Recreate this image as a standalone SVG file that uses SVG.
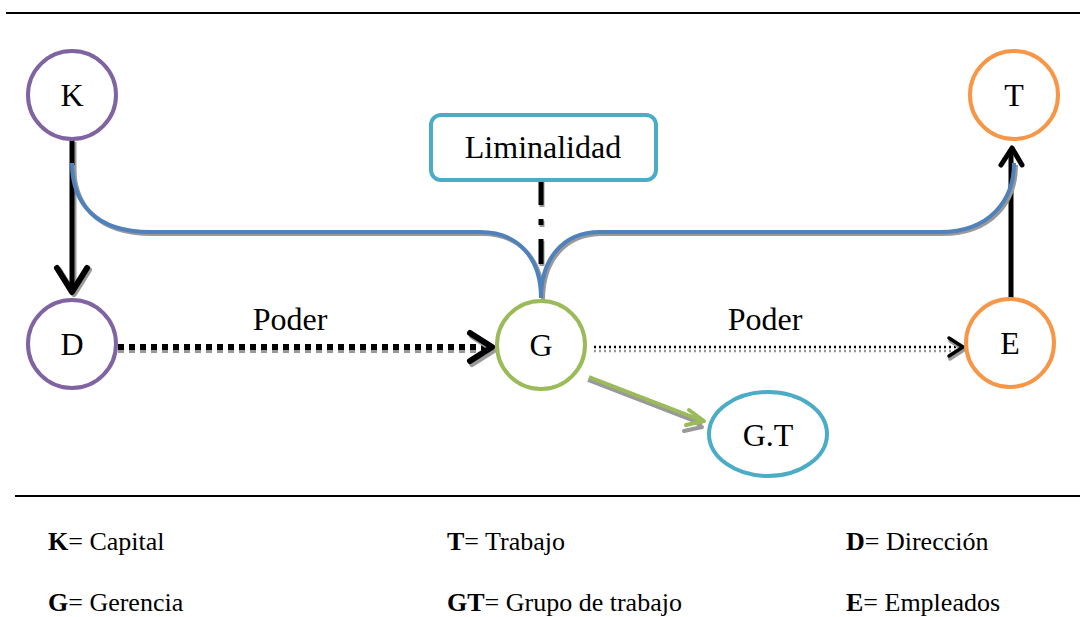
<svg xmlns="http://www.w3.org/2000/svg" width="1080" height="617" viewBox="0 0 1080 617">
<style>
text{font-family:"Liberation Serif","Times New Roman",serif;fill:#000}
.nd{fill:#fff;stroke-width:4}
.lbl{font-size:32px;text-anchor:middle}
.leg{font-size:26px}
.sh{stroke:#999;fill:none}
.ah{fill:none;stroke-linecap:round;stroke-linejoin:round}
</style>
<rect width="1080" height="617" fill="#fff"/>
<line x1="6" y1="13" x2="1080" y2="13" stroke="#000" stroke-width="2"/>
<line x1="15" y1="496" x2="1080" y2="496" stroke="#000" stroke-width="2"/>

<g id="connectors">
<line x1="74" y1="142" x2="74" y2="294" class="sh" stroke-width="5"/>
<polyline class="ah" points="59,270 74,294 89,270" stroke="#999" stroke-width="6"/>
<line x1="72" y1="140" x2="72" y2="293" stroke="#000" stroke-width="5"/>
<polyline class="ah" points="57,268 72,292 87,268" stroke="#000" stroke-width="6"/>
<line x1="1011" y1="298" x2="1011" y2="150" stroke="#000" stroke-width="5"/>
<polyline class="ah" points="1001,165 1012,148 1022,165" stroke="#000" stroke-width="5"/>
<path d="M74,165 C74,205 97,234 152,234 L482,234 C522,234 543,262 543,300" class="sh" stroke-width="4"/>
<path d="M543,300 C543,262 564,234 602,234 L942,234 C992,234 1016,202 1016,165" class="sh" stroke-width="4"/>
<path d="M72,163 C72,203 95,232 150,232 L480,232 C520,232 541,260 541,298" fill="none" stroke="#4F81BD" stroke-width="4"/>
<path d="M541,298 C541,260 562,232 600,232 L940,232 C990,232 1014,200 1014,163" fill="none" stroke="#4F81BD" stroke-width="4"/>
<line x1="542" y1="182" x2="542" y2="278" stroke="#999" stroke-width="5" stroke-dasharray="25,14,6,14"/>
<line x1="541" y1="180" x2="541" y2="276" stroke="#000" stroke-width="5" stroke-dasharray="25,14,6,14"/>
<line x1="118" y1="350" x2="492" y2="350" stroke="#999" stroke-width="6" stroke-dasharray="6,5"/>
<line x1="118" y1="347" x2="492" y2="347" stroke="#000" stroke-width="6" stroke-dasharray="6,5"/>
<polyline class="ah" points="470,333 492,347 470,361" stroke="#999" stroke-width="6" transform="translate(2,3)"/>
<polyline class="ah" points="470,333 492,347 470,361" stroke="#000" stroke-width="6"/>
<line x1="594" y1="351" x2="962" y2="351" stroke="#999" stroke-width="2.5" stroke-dasharray="2,3"/>
<line x1="594" y1="347" x2="962" y2="347" stroke="#000" stroke-width="2.5" stroke-dasharray="2,3"/>
<polyline class="ah" points="949,338 963,347 949,356" stroke="#999" stroke-width="3.5" transform="translate(1,3)"/>
<polyline class="ah" points="949,338 963,347 949,356" stroke="#000" stroke-width="3.5"/>
<line x1="588" y1="380" x2="702" y2="424" stroke="#999" stroke-width="4"/>
<polyline class="ah" points="688,413 703,424 685,428" stroke="#999" stroke-width="4" transform="translate(-1,3)"/>
<line x1="589" y1="377" x2="703" y2="421" stroke="#9BBB59" stroke-width="4"/>
<polyline class="ah" points="689,410 704,421 686,425" stroke="#9BBB59" stroke-width="4"/>
</g>

<g id="node-K"><circle class="nd" cx="72" cy="95" r="44" stroke="#8064A2"/><text class="lbl" x="72" y="106">K</text></g>
<g id="node-T"><circle class="nd" cx="1014" cy="95" r="44" stroke="#F79646"/><text class="lbl" x="1014" y="106">T</text></g>
<g id="node-D"><circle class="nd" cx="72" cy="344" r="44" stroke="#8064A2"/><text class="lbl" x="72" y="355">D</text></g>
<g id="node-G"><circle class="nd" cx="541" cy="345" r="44" stroke="#9BBB59"/><text class="lbl" x="541" y="356">G</text></g>
<g id="node-E"><circle class="nd" cx="1010" cy="343" r="44" stroke="#F79646"/><text class="lbl" x="1010" y="354">E</text></g>
<g id="node-GT"><ellipse class="nd" cx="768" cy="434" rx="59" ry="42" stroke="#4BACC6"/><text class="lbl" x="768" y="446">G.T</text></g>
<g id="node-Liminalidad"><rect class="nd" x="431" y="115" width="225" height="65" rx="10" stroke="#4BACC6"/><text class="lbl" x="543" y="158">Liminalidad</text></g>

<g id="labels">
<text class="lbl" x="290" y="330">Poder</text>
<text class="lbl" x="765" y="330">Poder</text>
</g>

<g id="legend">
<text class="leg" x="48" y="550"><tspan font-weight="bold">K</tspan>= Capital</text>
<text class="leg" x="48" y="611"><tspan font-weight="bold">G</tspan>= Gerencia</text>
<text class="leg" x="447" y="550"><tspan font-weight="bold">T</tspan>= Trabajo</text>
<text class="leg" x="447" y="611"><tspan font-weight="bold">GT</tspan>= Grupo de trabajo</text>
<text class="leg" x="846" y="550"><tspan font-weight="bold">D</tspan>= Dirección</text>
<text class="leg" x="846" y="611"><tspan font-weight="bold">E</tspan>= Empleados</text>
</g>
</svg>
